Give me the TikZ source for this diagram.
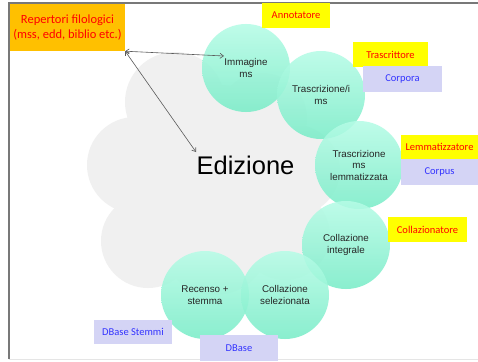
\documentclass[tikz,border=0pt]{standalone}
\usepackage{fontspec}
\setmainfont{Liberation Sans}
\newfontfamily\calfont{Carlito}
\usetikzlibrary{arrows.meta}
\definecolor{cloudgray}{RGB}{240,240,240}
\definecolor{greentop}{RGB}{182,252,230}
\definecolor{greenbot}{RGB}{122,236,200}
\definecolor{orangebox}{RGB}{255,192,0}
\definecolor{yellowbox}{RGB}{255,255,0}
\definecolor{lavbox}{RGB}{212,212,245}
\definecolor{redtext}{RGB}{255,0,0}
\definecolor{bluetext}{RGB}{51,51,255}
\definecolor{framegray}{RGB}{120,120,120}
\definecolor{arrowgray}{RGB}{90,90,90}
\begin{document}
\begin{tikzpicture}[x=1pt,y=-1pt,
  greencirc/.style={circle, minimum size=88pt, inner sep=0pt, top color=greentop, bottom color=greenbot, fill opacity=0.88, text opacity=1, align=center, font=\fontsize{9.8}{11.5}\selectfont, text=black!85},
  rolebox/.style={fill=yellowbox, text=redtext, inner sep=0pt, minimum height=25pt, font=\calfont\fontsize{10.5}{12}\selectfont},
  databox/.style={fill=lavbox, text=bluetext, inner sep=0pt, minimum height=25pt, font=\calfont\fontsize{10.5}{12}\selectfont},
  link/.style={draw=arrowgray, line width=0.6pt, {Straight Barb[length=3.5pt,width=5pt]}-{Straight Barb[length=3.5pt,width=5pt]}}
]
\useasboundingbox (0,0) rectangle (478,361);
\fill[white] (0,0) rectangle (478,361);
% frame
\draw[framegray, line width=1.4pt] (9,359) -- (9,3) -- (478,3);
\draw[black!10, line width=0.8pt] (9,359.5) -- (478,359.5);
% cloud
\fill[cloudgray] (175,102) circle (50) (135,165) circle (48) (148,241) circle (47)
  (215,240) circle (55) (220,165) circle (80) (262,118) circle (45) (295,170) circle (45) (285,235) circle (45);
% green circles
\node[greencirc] (imm) at (246,68) {Immagine\\ms};
\node[greencirc] (trs) at (321,95) {Trascrizione/i\\ms};
\node[greencirc] (lem) at (359,165) {Trascrizione\\ms\\lemmatizzata};
\node[greencirc] (coi) at (346,245) {Collazione\\integrale};
\node[greencirc] (cos) at (285,295) {Collazione\\selezionata};
\node[greencirc] (rec) at (205,295) {Recenso +\\stemma};
% title
\node[anchor=base, font=\fontsize{25.5}{28}\selectfont, inner sep=0pt] (ed) at (245.5,174) {Edizione};
% boxes
\node[fill=orangebox, text=redtext, inner sep=0pt, minimum width=115pt, minimum height=47pt, align=center, font=\calfont\fontsize{12.5}{15}\selectfont] (rep) at (67.5,27.5) {Repertori filologici\\(mss, edd, biblio etc.)};
\node[rolebox, minimum width=68pt] (ann) at (296,15.5) {Annotatore};
\node[rolebox, minimum width=75pt] (trr) at (390.5,54.5) {Trascrittore};
\node[databox, minimum width=79pt, minimum height=26pt] (cpa) at (402.5,79) {Corpora};
\node[rolebox, minimum width=77pt, minimum height=24pt] (lmz) at (439.5,147) {Lemmatizzatore};
\node[databox, minimum width=77pt, minimum height=26pt] (cps) at (439.5,172) {Corpus};
\node[rolebox, minimum width=79pt] (cln) at (427.5,229.5) {Collazionatore};
\node[databox, minimum width=78pt, minimum height=24pt] (dbs) at (133,332) {DBase Stemmi};
\node[databox, minimum width=78pt, minimum height=26pt] (dbb) at (239,348) {DBase};
% connectors
\coordinate (immend) at (224,56);
\coordinate (edend) at (196,152);
\draw[link] (rep.south east) -- (immend);
\draw[link] (rep.south east) -- (edend);
\end{tikzpicture}
\end{document}
